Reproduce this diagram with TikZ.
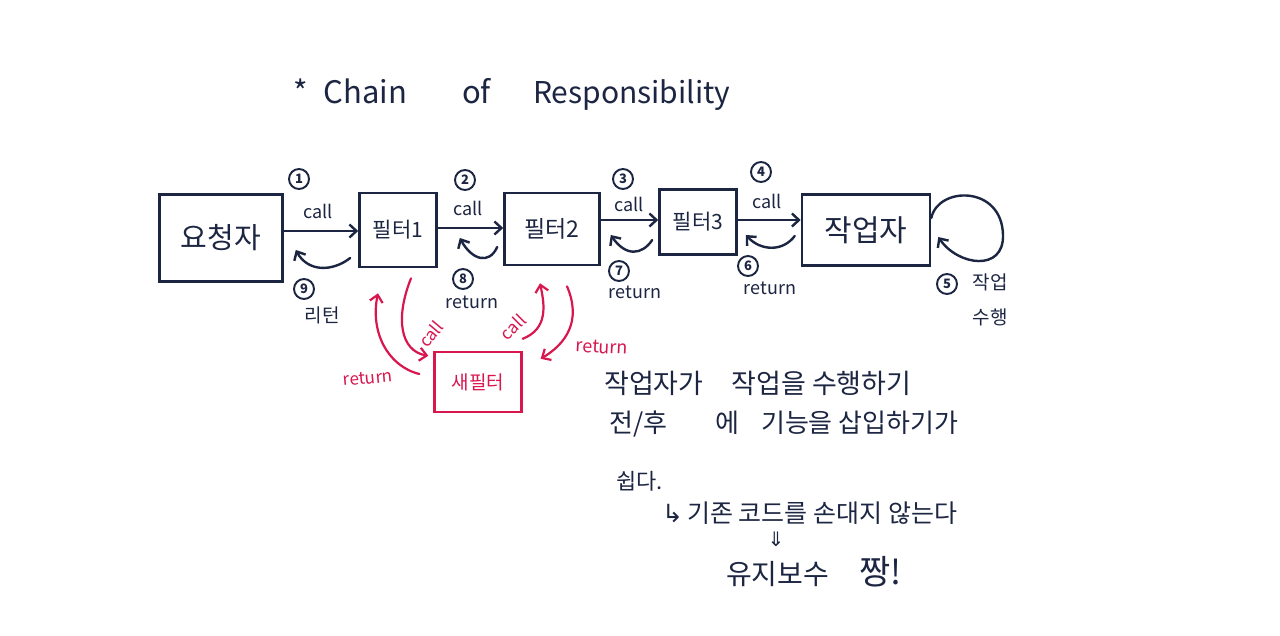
\documentclass[tikz,border=0pt]{standalone}
\usepackage{fontspec}
\setmainfont{Noto Sans CJK KR}
\newfontfamily\symfont{DejaVu Sans}
\usetikzlibrary{arrows.meta,calc}
\definecolor{ink}{HTML}{1C2541}
\definecolor{pinkred}{HTML}{D8174F}
\tikzset{
  box/.style={draw=ink, line width=2.6pt, inner sep=0pt, text=ink},
  redbox/.style={draw=pinkred, line width=2.4pt, inner sep=0pt, text=pinkred},
  lbl/.style={text=ink, inner sep=0pt, font=\fontsize{18}{20}\selectfont},
  rlbl/.style={text=pinkred, inner sep=0pt, font=\fontsize{17}{19}\selectfont},
  num/.style={circle, draw=ink, line width=1.9pt, text=ink, inner sep=0pt, minimum size=20pt, font=\fontsize{13}{13}\selectfont\bfseries},
  note/.style={text=ink, inner sep=0pt, anchor=west},
  titletext/.style={text=ink, inner sep=0pt, anchor=base west, font=\fontsize{31}{33}\selectfont},
  flow/.style={draw=ink, line width=2.4pt, line cap=round, -{Straight Barb[length=7pt,width=13pt]}},
  rflow/.style={draw=pinkred, line width=2.2pt, line cap=round, -{Straight Barb[length=7pt,width=13pt]}}
}
\begin{document}
\begin{tikzpicture}[x=1pt,y=-1pt]
\useasboundingbox[fill=white] (0,0) rectangle (1280,635);

% title
\node[titletext] (title1) at (293,103) {*\hspace{16pt}Chain};
\node[titletext] (title2) at (462,103) {of};
\node[titletext, font=\fontsize{30}{32}\selectfont] (title3) at (533,103) {Responsibility};

% boxes
\node[box, minimum width=123pt, minimum height=87pt, font=\fontsize{29}{30}\selectfont] (req) at (221,238) {요청자};
\node[box, minimum width=77pt, minimum height=74pt, font=\fontsize{21}{22}\selectfont] (f1) at (398,230) {필터1};
\node[box, minimum width=95pt, minimum height=72pt, font=\fontsize{23}{24}\selectfont] (f2) at (552,229) {필터2};
\node[box, minimum width=77pt, minimum height=65pt, font=\fontsize{21}{22}\selectfont] (f3) at (698,222) {필터3};
\node[box, minimum width=128pt, minimum height=71pt, font=\fontsize{30}{31}\selectfont] (work) at (866,230) {작업자};
\node[redbox, minimum width=87pt, minimum height=60pt, font=\fontsize{19}{20}\selectfont] (nf) at (478,382) {새필터};

% call arrows
\draw[flow] (req.east |- 0,231) -- (f1.west |- 0,231);
\draw[flow] (f1.east |- 0,228) -- (f2.west |- 0,228);
\draw[flow] (f2.east |- 0,220) -- (f3.west |- 0,220);
\draw[flow] (f3.east |- 0,220) -- (work.west |- 0,220);

% return arrows
\coordinate (r9s) at ($(f1.west)+(-8,28)$);
\coordinate (r9e) at ($(req.east)+(12,12)$);
\draw[flow] (r9s) .. controls ($(r9s)+(-18,14)$) and ($(r9e)+(12,22)$) .. (r9e);
\coordinate (r8s) at ($(f2.west)+(-6,18)$);
\coordinate (r8e) at ($(f1.east)+(22,8)$);
\draw[flow] (r8s) .. controls ($(r8s)+(-8,18)$) and ($(r8e)+(12,22)$) .. (r8e);
\coordinate (r7s) at ($(f3.west)+(-6,18)$);
\coordinate (r7e) at ($(f2.east)+(10,6)$);
\draw[flow] (r7s) .. controls ($(r7s)+(-10,15)$) and ($(r7e)+(15,22)$) .. (r7e);
\coordinate (r6s) at ($(work.west)+(-6,6)$);
\coordinate (r6e) at ($(f3.east)+(8,13)$);
\draw[flow] (r6s) .. controls ($(r6s)+(-12,16)$) and ($(r6e)+(15,16)$) .. (r6e);

% self loop
\coordinate (ls) at ($(work.east)+(0,-12)$);
\coordinate (le) at ($(work.east)+(7,7)$);
\draw[flow] (ls) .. controls (938,186) and (1002,185) .. (1003,235)
  .. controls (1004,272) and (958,266) .. (le);

% labels
\node[num] (n1) at (299,179) {1};
\node[lbl] (c1) at (318,211) {call};
\node[num] (n9) at (304,289) {9};
\node[lbl, font=\fontsize{19}{20}\selectfont] (t9) at (322,315) {리턴};
\node[num] (n2) at (465,180) {2};
\node[lbl] (c2) at (468,208) {call};
\node[num] (n8) at (463,279) {8};
\node[lbl] (t8) at (472,302) {return};
\node[num] (n3) at (623,179) {3};
\node[lbl] (c3) at (629,204) {call};
\node[num] (n7) at (619,271) {7};
\node[lbl] (t7) at (635,292) {return};
\node[num] (n4) at (761,172) {4};
\node[lbl] (c4) at (767,201) {call};
\node[num] (n6) at (748,266) {6};
\node[lbl] (t6) at (770,288) {return};
\node[num] (n5) at (947,284) {5};
\node[lbl, align=center, font=\fontsize{19}{35}\selectfont] (t5) at (990,300) {작업\\수행};

% red new filter arrows
\coordinate (a1s) at ($(f1.south)+(13,10)$);
\coordinate (a1e) at ($(nf.north west)+(-5,5)$);
\draw[rflow] (a1s) .. controls ($(a1s)+(-16,40)$) and ($(a1e)+(-28,-5)$) .. (a1e);
\coordinate (a2s) at ($(nf.west)+(-14,-8)$);
\coordinate (a2e) at ($(f1.south)+(-20,25)$);
\draw[rflow] (a2s) .. controls ($(a2s)+(-32,-8)$) and ($(a2e)+(-8,38)$) .. (a2e);
\coordinate (a3s) at ($(nf.north east)+(0,-12)$);
\coordinate (a3e) at ($(f2.south)+(-12,17)$);
\draw[rflow] (a3s) .. controls ($(a3s)+(25,-10)$) and ($(a3e)+(5,23)$) .. (a3e);
\coordinate (a4s) at ($(f2.south)+(15,20)$);
\coordinate (a4e) at ($(nf.north east)+(18,8)$);
\draw[rflow] (a4s) .. controls ($(a4s)+(15,35)$) and ($(a4e)+(25,-15)$) .. (a4e);

\node[rlbl, rotate=50] (rc1) at (431,334) {call};
\node[rlbl, rotate=45] (rc2) at (513,327) {call};
\node[rlbl, rotate=5] (rr1) at (368,378) {return};
\node[rlbl, rotate=-3, font=\fontsize{18}{20}\selectfont] (rr2) at (602,347) {return};

% notes
\node[note, font=\fontsize{27}{29}\selectfont] (l1) at (604,383) {작업자가\hspace{28pt}작업을 수행하기};
\node[note, font=\fontsize{26}{28}\selectfont] (l2) at (609,424) {전/후\hspace{48pt}에\hspace{22pt}기능을 삽입하기가};
\node[note, font=\fontsize{22}{24}\selectfont] (l3) at (616,481) {쉽다.};
\node[note, font=\fontsize{25}{27}\selectfont] (l4) at (662,513) {{\symfont ↳}\,기존 코드를 손대지 않는다};
\node[text=ink, inner sep=0pt, font=\symfont\fontsize{20}{20}\selectfont] (l5) at (776,539) {⇓};
\node[note, font=\fontsize{28}{30}\selectfont] (l6) at (726,572) {유지보수\hspace{30pt}{\fontsize{34}{36}\selectfont 짱!}};
\end{tikzpicture}
\end{document}
